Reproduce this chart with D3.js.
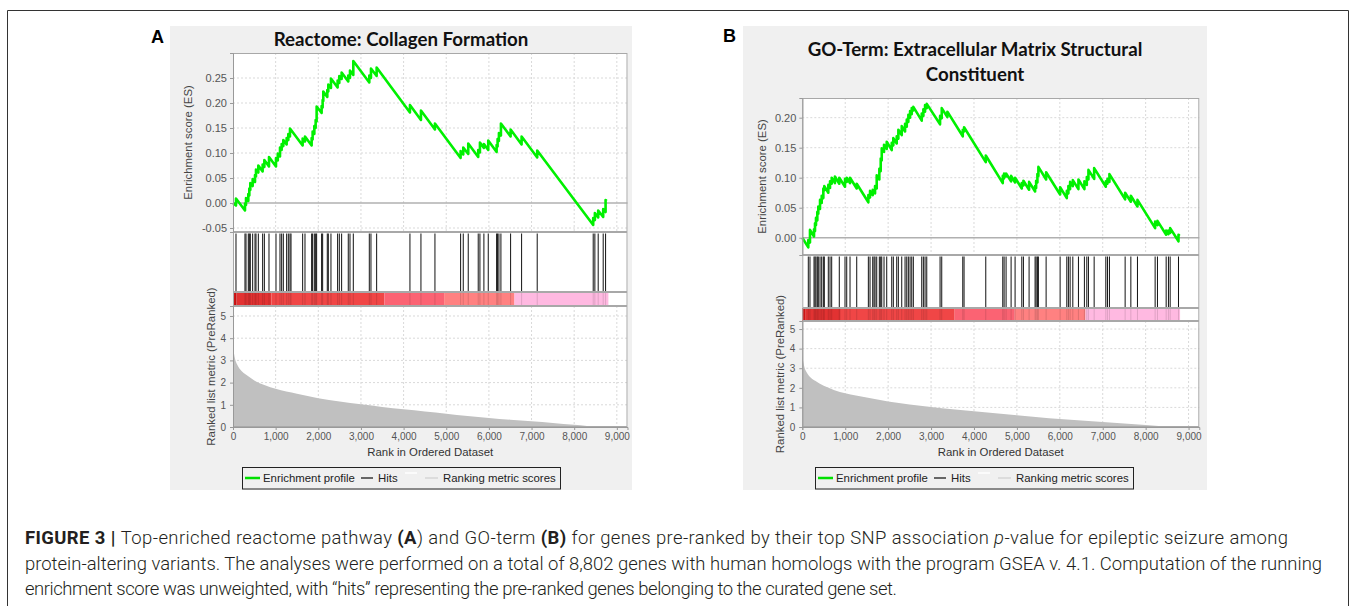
<!DOCTYPE html>
<html><head><meta charset="utf-8">
<script src="https://cdn.jsdelivr.net/npm/d3@7"></script>
<style>body{margin:0;background:#fff}svg{display:block}</style>
</head><body>
<svg id="c" width="1355" height="606"></svg>
<script>
// ---------------- DATA ----------------
const rankMax = 9250;
const xTicks = [0,1000,2000,3000,4000,5000,6000,7000,8000,9000];
const esTicksA = [-0.05,0,0.05,0.10,0.15,0.20,0.25];
const esTicksB = [0,0.05,0.10,0.15,0.20];
const metricTicks = [0,1,2,3,4,5];

// ranked list metric (same pre-ranked list in both panels)
const metricRanks  = [0,10,25,50,100,200,300,500,750,1000,1500,2000,2500,3000,3500,4000,4500,5000,5500,6000,6500,7000,7500,8000,8300,8550,8802];
const metricValues = [3.7,3.5,3.3,3.05,2.8,2.52,2.36,2.1,1.88,1.72,1.5,1.3,1.15,1.02,0.9,0.8,0.7,0.6,0.5,0.41,0.33,0.26,0.18,0.1,0.05,0.0,0.0];

// colour bar bands
const bandStart = [0,80,900,3550,4950,6600];
const bandEnd   = [80,900,3550,4950,6600,8802];
const bandColor = ["#cf1515","#e23232","#f04646","#fb6373","#ff8181","#ffb9e1"];

// hits (gene-set members) by rank
const hitsA = [70,281,305,359,383,406,461,516,539,594,695,735,844,1008,1102,1141,1180,1258,1297,1336,1360,1633,1688,1844,1867,1907,1938,1961,2078,2102,2211,2235,2297,2453,2493,2547,2703,2743,2821,3196,3235,3368,4149,4407,4735,5337,5399,5516,5750,5790,5883,5985,6181,6204,6235,6282,6509,6767,7133,8446,8485,8563,8680,8736];
const hitsB = [140,179,273,296,319,350,373,413,452,490,513,606,646,685,862,995,1035,1112,1268,1539,1578,1641,1671,1695,1734,1795,1827,1851,1904,1967,2084,2121,2200,2238,2317,2394,2434,2471,2511,2550,2587,2783,2821,2860,2900,3210,3249,3739,3769,4275,4671,4702,4748,4865,4958,5114,5152,5284,5424,5448,5478,5501,5681,6007,6163,6200,6240,6303,6434,6573,6629,6667,6800,7072,7110,7156,7522,7655,7809,8221,8275,8478,8531,8571,8765];

// running enrichment score: [rank, ES before step, ES after step]
const esStartA = 0.0;
const esA = [[70,-0.005,0.009],[281,-0.015,-0.001],[305,-0.004,0.010],[359,0.004,0.018],[383,0.015,0.029],[406,0.026,0.040],[461,0.034,0.048],[516,0.042,0.056],[539,0.053,0.067],[594,0.061,0.075],[695,0.063,0.077],[735,0.072,0.086],[844,0.073,0.092],[1008,0.073,0.090],[1050,0.085,0.099],[1102,0.093,0.111],[1141,0.106,0.118],[1180,0.114,0.126],[1258,0.117,0.130],[1297,0.126,0.138],[1336,0.133,0.149],[1633,0.115,0.129],[1688,0.123,0.133],[1844,0.115,0.130],[1867,0.127,0.143],[1907,0.138,0.154],[1938,0.150,0.166],[1961,0.163,0.193],[2078,0.180,0.194],[2102,0.191,0.206],[2117,0.204,0.223],[2211,0.212,0.226],[2235,0.223,0.237],[2297,0.230,0.249],[2453,0.231,0.245],[2493,0.240,0.254],[2547,0.248,0.261],[2703,0.243,0.255],[2743,0.250,0.265],[2821,0.256,0.284],[3196,0.241,0.255],[3235,0.250,0.269],[3368,0.254,0.271],[4149,0.181,0.196],[4407,0.166,0.185],[4735,0.147,0.159],[5337,0.090,0.104],[5399,0.097,0.111],[5516,0.098,0.119],[5750,0.092,0.106],[5790,0.101,0.121],[5883,0.110,0.118],[5985,0.106,0.125],[6181,0.102,0.116],[6204,0.113,0.128],[6235,0.124,0.140],[6282,0.135,0.159],[6509,0.133,0.147],[6767,0.117,0.133],[7133,0.091,0.105],[8446,-0.044,-0.030],[8485,-0.034,-0.020],[8563,-0.029,-0.015],[8680,-0.028,-0.012],[8736,-0.018,0.006]];
const esEndA = [8760,0.004];

const esStartB = 0.0;
const esB = [[140,-0.016,-0.004],[179,-0.008,0.013],[273,0.002,0.014],[296,0.011,0.024],[319,0.021,0.033],[350,0.029,0.043],[373,0.040,0.052],[413,0.048,0.063],[452,0.058,0.070],[490,0.066,0.082],[513,0.079,0.086],[606,0.075,0.088],[646,0.083,0.094],[685,0.090,0.100],[760,0.091,0.102],[862,0.090,0.100],[995,0.085,0.098],[1035,0.093,0.100],[1112,0.091,0.100],[1268,0.082,0.090],[1539,0.059,0.071],[1578,0.067,0.078],[1641,0.071,0.080],[1695,0.074,0.086],[1734,0.082,0.104],[1795,0.097,0.115],[1827,0.111,0.132],[1851,0.129,0.149],[1904,0.143,0.155],[1967,0.148,0.160],[2084,0.146,0.158],[2121,0.154,0.166],[2200,0.157,0.169],[2238,0.165,0.180],[2317,0.171,0.186],[2394,0.177,0.190],[2434,0.185,0.197],[2471,0.193,0.205],[2511,0.200,0.211],[2550,0.206,0.216],[2587,0.212,0.218],[2783,0.195,0.207],[2821,0.203,0.214],[2860,0.210,0.221],[2900,0.216,0.223],[3210,0.189,0.203],[3249,0.199,0.216],[3380,0.201,0.210],[3739,0.169,0.180],[3769,0.177,0.184],[4275,0.126,0.137],[4671,0.091,0.103],[4702,0.099,0.107],[4748,0.102,0.107],[4865,0.094,0.103],[4958,0.092,0.100],[5114,0.082,0.091],[5152,0.087,0.095],[5284,0.080,0.093],[5424,0.077,0.086],[5448,0.083,0.095],[5478,0.092,0.106],[5501,0.103,0.118],[5681,0.097,0.109],[6007,0.072,0.084],[6163,0.066,0.078],[6200,0.074,0.086],[6240,0.081,0.093],[6303,0.086,0.096],[6434,0.081,0.097],[6573,0.081,0.094],[6629,0.088,0.101],[6667,0.097,0.113],[6800,0.098,0.116],[7072,0.085,0.094],[7110,0.090,0.098],[7156,0.093,0.106],[7522,0.064,0.075],[7655,0.060,0.070],[7809,0.052,0.063],[8221,0.016,0.027],[8275,0.021,0.028],[8478,0.005,0.012],[8531,0.006,0.012],[8571,0.008,0.016],[8765,-0.006,0.005]];
const esEndB = [8790,0.003];

const titleA = ["Reactome: Collagen Formation"];
const titleB = ["GO-Term: Extracellular Matrix Structural","Constituent"];
const legendLabels = ["Enrichment profile","Hits","Ranking metric scores"];

// ---------------- DRAW ----------------
const svg = d3.select("#c");
svg.append("rect").attr("width",1355).attr("height",606).attr("fill","#fff");
// figure frame
svg.append("path").attr("d","M7.5,606 V10.5 H1348.5 V606").attr("fill","none").attr("stroke","#333").attr("stroke-width",1);

const FONT = "'Liberation Sans', Arial, sans-serif";

function esPoints(start, jumps, end){
  const pts=[[0,start]];
  jumps.forEach(j=>{pts.push([j[0],j[1]]);pts.push([j[0],j[2]]);});
  pts.push(end);
  return pts;
}

function drawPanel(P){
  const g = svg.append("g");
  g.append("rect").attr("x",P.bg[0]).attr("y",P.bg[1]).attr("width",P.bg[2]).attr("height",P.bg[3]).attr("fill","#f0f0f0");
  const x = d3.scaleLinear().domain([0,rankMax]).range([P.x0,P.x1]);
  const yE = d3.scaleLinear().domain(P.esDom).range([P.esB,P.esT]);
  const yM = d3.scaleLinear().domain([0,P.mTop]).range([P.mB,P.mT]);
  const W = P.x1-P.x0;

  const boxes = [[P.esT,P.esB],[P.esB,P.barT],[P.barT,P.barB],[P.barB,P.mB]];
  g.selectAll("rect.wb").data(boxes).join("rect").attr("class","wb")
    .attr("x",P.x0).attr("y",d=>d[0]).attr("width",W).attr("height",d=>d[1]-d[0]).attr("fill","#fff");

  // grids
  const grid = g.append("g").attr("stroke","#d9d9d9").attr("stroke-dasharray","2,2").attr("stroke-width",1);
  grid.selectAll("line.gv1").data(xTicks.filter(d=>d>0)).join("line").attr("class","gv1")
    .attr("x1",d=>x(d)).attr("x2",d=>x(d)).attr("y1",P.esT).attr("y2",P.esB);
  grid.selectAll("line.gv2").data(xTicks.filter(d=>d>0)).join("line").attr("class","gv2")
    .attr("x1",d=>x(d)).attr("x2",d=>x(d)).attr("y1",P.barB).attr("y2",P.mB);
  grid.selectAll("line.gh1").data(P.esTicks.filter(d=>d!==0)).join("line").attr("class","gh1")
    .attr("x1",P.x0).attr("x2",P.x1).attr("y1",d=>yE(d)).attr("y2",d=>yE(d));
  grid.selectAll("line.gh2").data(metricTicks.filter(d=>d>0)).join("line").attr("class","gh2")
    .attr("x1",P.x0).attr("x2",P.x1).attr("y1",d=>yM(d)).attr("y2",d=>yM(d));

  // zero line
  g.append("line").attr("x1",P.x0).attr("x2",P.x1).attr("y1",yE(0)).attr("y2",yE(0))
    .attr("stroke","#b0b0b0").attr("stroke-width",1.6);

  // ES curve
  const pts = esPoints(P.esStart,P.es,P.esEnd);
  g.append("path").datum(pts).attr("fill","none").attr("stroke","#00f000").attr("stroke-width",2.6)
    .attr("stroke-linejoin","round")
    .attr("d",d3.line().x(d=>x(d[0])).y(d=>yE(d[1])));

  // colour bar
  const bands = bandStart.map((s,i)=>({s,e:bandEnd[i],c:bandColor[i]}));
  g.selectAll("rect.band").data(bands).join("rect").attr("class","band")
    .attr("x",d=>x(d.s)).attr("width",d=>x(d.e)-x(d.s)).attr("y",P.barT).attr("height",P.barB-P.barT).attr("fill",d=>d.c);

  // hits
  g.selectAll("line.hit").data(P.hits).join("line").attr("class","hit")
    .attr("x1",d=>x(d)).attr("x2",d=>x(d)).attr("y1",P.esB+1.5).attr("y2",P.barT)
    .attr("stroke","#111").attr("stroke-width",1);
  g.selectAll("line.hit2").data(P.hits).join("line").attr("class","hit2")
    .attr("x1",d=>x(d)).attr("x2",d=>x(d)).attr("y1",P.barT).attr("y2",P.barB)
    .attr("stroke","rgba(0,0,0,0.13)").attr("stroke-width",1);

  // ranked metric area
  const mdat = metricRanks.map((r,i)=>[r,metricValues[i]]);
  g.append("path").datum(mdat).attr("fill","#c0c0c0")
    .attr("d",d3.area().curve(d3.curveMonotoneX).x(d=>x(d[0])).y0(yM(0)).y1(d=>yM(d[1])));

  // frames
  g.selectAll("rect.fr").data(boxes).join("rect").attr("class","fr")
    .attr("x",P.x0+0.5).attr("y",d=>d[0]+0.5).attr("width",W-1).attr("height",d=>d[1]-d[0]-1)
    .attr("fill","none").attr("stroke","#a8a8a8").attr("stroke-width",1);

  // axes
  const axE = g.append("g").attr("transform",`translate(${P.x0},0)`)
    .call(d3.axisLeft(yE).tickValues(P.esTicks).tickFormat(d=>d.toFixed(2)).tickSize(3).tickPadding(3));
  const axM = g.append("g").attr("transform",`translate(${P.x0},0)`)
    .call(d3.axisLeft(yM).tickValues(metricTicks).tickFormat(d=>String(d)).tickSize(3).tickPadding(4));
  const axX = g.append("g").attr("transform",`translate(0,${P.mB})`)
    .call(d3.axisBottom(x).tickValues(xTicks).tickFormat(d3.format(",")).tickSize(3).tickPadding(3));
  [axE,axM,axX].forEach(a=>{
    a.select(".domain").attr("stroke","#999");
    a.selectAll(".tick line").attr("stroke","#999");
    a.selectAll("text").attr("fill","#555").attr("font-family",FONT);
  });
  axE.selectAll("text").attr("font-size",11);
  axM.selectAll("text").attr("font-size",10);
  axX.selectAll("text").attr("font-size",10);

  // axis titles
  g.append("text").attr("transform",`translate(${P.esLabX},${(P.esT+P.esB)/2}) rotate(-90)`)
    .attr("text-anchor","middle").attr("dominant-baseline","central")
    .attr("font-family",FONT).attr("font-size",11.4).attr("fill","#444").text("Enrichment score (ES)");
  g.append("text").attr("transform",`translate(${P.mLabX},${(P.barB+P.mB)/2}) rotate(-90)`)
    .attr("text-anchor","middle").attr("dominant-baseline","central")
    .attr("font-family",FONT).attr("font-size",11.4).attr("fill","#444").text("Ranked list metric (PreRanked)");
  g.append("text").attr("x",(P.x0+P.x1)/2).attr("y",P.xLabY).attr("text-anchor","middle")
    .attr("font-family",FONT).attr("font-size",11.4).attr("fill","#333").text("Rank in Ordered Dataset");

  // title
  g.selectAll("text.title").data(P.title).join("text").attr("class","title")
    .attr("x",P.bg[0]+P.bg[2]/2).attr("y",(d,i)=>P.titleY+i*P.titleDY).attr("text-anchor","middle")
    .attr("font-family","Lato, 'Open Sans', sans-serif").attr("font-weight","bold").attr("font-size",18.7)
    .attr("fill","#111").text(d=>d);
  // panel letter
  g.append("text").attr("x",P.letterX).attr("y",P.letterY).attr("font-family",FONT)
    .attr("font-weight","bold").attr("font-size",18).attr("fill","#000").text(P.letter);

  // legend
  const L = P.legX, LY = 478;
  const lg = g.append("g");
  lg.append("rect").attr("x",L+0.5).attr("y",467.5).attr("width",318).attr("height",21.5)
    .attr("fill","#f0f0f0").attr("stroke","#222").attr("stroke-width",1);
  const items = [
    {x1:3,x2:18,y:LY,c:"#00e000",w:2.5,t:legendLabels[0],tx:21},
    {x1:119,x2:131,y:LY,c:"#666",w:2,t:legendLabels[1],tx:136},
    {x1:163,x2:175,y:LY-5,c:"#fbfbfb",w:2,t:"",tx:0},
    {x1:183,x2:196,y:LY,c:"#dcdcdc",w:2,t:legendLabels[2],tx:201}
  ];
  lg.selectAll("line").data(items).join("line")
    .attr("x1",d=>L+d.x1).attr("x2",d=>L+d.x2).attr("y1",d=>d.y).attr("y2",d=>d.y)
    .attr("stroke",d=>d.c).attr("stroke-width",d=>d.w);
  lg.selectAll("text").data(items.filter(d=>d.t)).join("text")
    .attr("x",d=>L+d.tx).attr("y",LY+4).attr("font-family",FONT).attr("font-size",11.4).attr("fill","#222").text(d=>d.t);
}

drawPanel({letter:"A",letterX:151,letterY:43,bg:[170,26,462,464],
  x0:233,x1:627.5,esT:53,esB:232,barT:292,barB:306,mT:306,mB:427,
  esDom:[-0.058,0.30],mTop:5.45,esTicks:esTicksA,
  esStart:esStartA,es:esA,esEnd:esEndA,hits:hitsA,
  esLabX:188,mLabX:211,xLabY:456,title:titleA,titleY:46,titleDY:0,legX:242});

drawPanel({letter:"B",letterX:723,letterY:42,bg:[743,26,464,464],
  x0:802.3,x1:1199.3,esT:98,esB:255,barT:308,barB:321,mT:321,mB:427,
  esDom:[-0.0288,0.2328],mTop:5.41,esTicks:esTicksB,
  esStart:esStartB,es:esB,esEnd:esEndB,hits:hitsB,
  esLabX:762,mLabX:780,xLabY:456,title:titleB,titleY:56,titleDY:25,legX:815});

// caption
const cap = svg.append("g").attr("font-family","Roboto, 'Liberation Sans', sans-serif").attr("font-weight",300).attr("fill","#231f20");
const capLines = [
  [["FIGURE 3 | ","b"],["Top-enriched reactome pathway ",""],["(A",  "b"],[") and GO-term ",""],["(B)","b"],[" for genes pre-ranked by their top SNP association ",""],["p","i"],["-value for epileptic seizure among",""]],
  [["protein-altering variants. The analyses were performed on a total of 8,802 genes with human homologs with the program GSEA v. 4.1. Computation of the running",""]],
  [["enrichment score was unweighted, with \u201Chits\u201D representing the pre-ranked genes belonging to the curated gene set.",""]]
];
const capY = [544,570,595];
const capWidth = [1263,1298,872];
const texts = capLines.map((ln,i)=>{
  const t = cap.append("text").attr("x",25).attr("y",capY[i]).attr("font-size",16);
  ln.forEach(([s,st])=>{
    const sp = t.append("tspan").text(s);
    if(st==="b") sp.attr("font-weight",700);
    if(st==="i") sp.attr("font-style","italic");
  });
  return t;
});
const w2 = texts[1].node().getComputedTextLength();
const fs = 16*capWidth[1]/w2;
texts.forEach((t,i)=>{
  t.attr("font-size",fs);
  if(i!==1) t.attr("textLength",capWidth[i]).attr("lengthAdjust","spacing");
});
</script>
</body></html>
